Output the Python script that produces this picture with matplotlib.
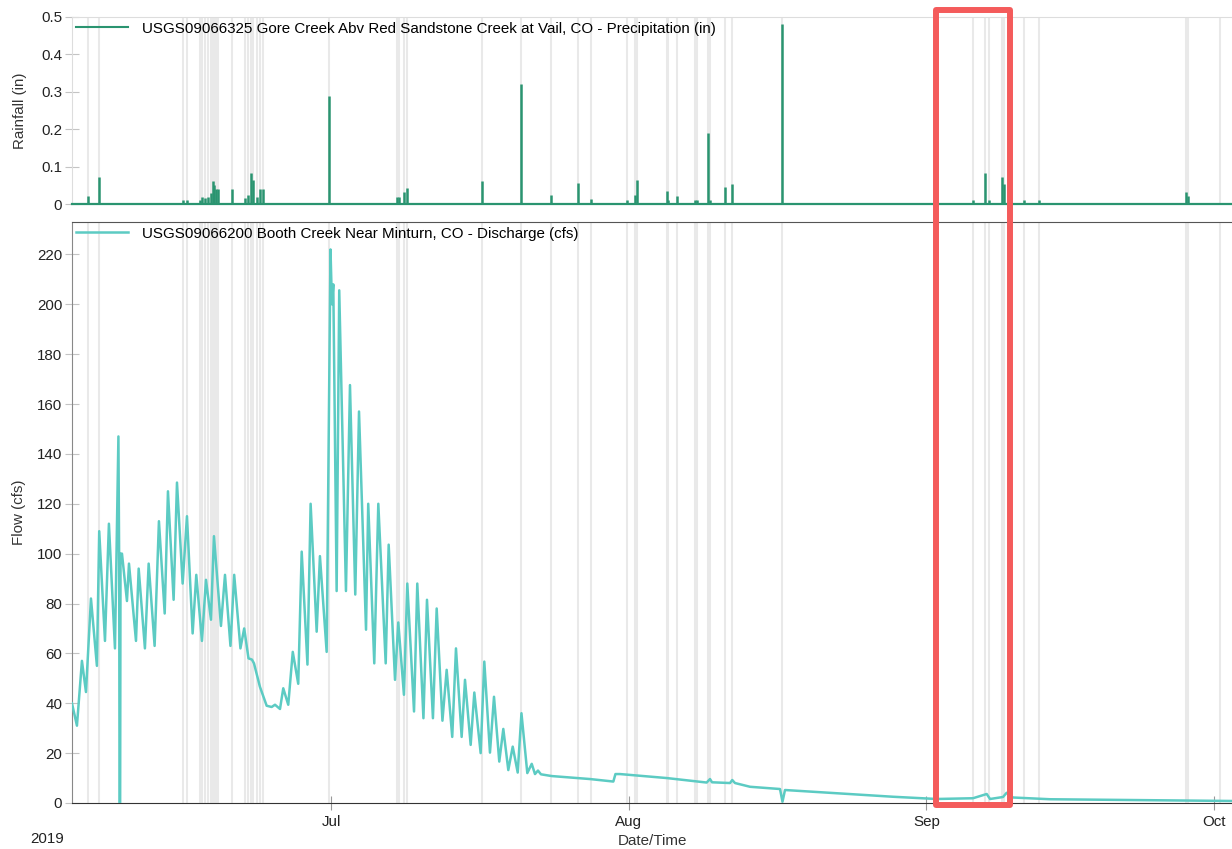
import pandas as pd
import matplotlib
matplotlib.use("Agg")
import matplotlib.pyplot as plt
import matplotlib.dates as mdates
import matplotlib.transforms as mtransforms
from matplotlib.patches import Rectangle

plt.rcParams["font.family"] = ["Liberation Sans", "DejaVu Sans"]
plt.rcParams["font.size"] = 10.9

START = pd.Timestamp("2019-06-04")
END_DAYS = 120.83

# rain gauge (days after Jun 4, inches)
rain_days = [1.64, 2.81, 11.59, 11.95, 13.33, 13.51, 13.85, 14.20, 14.45, 14.66,
             14.79, 15.00, 15.24, 16.64, 18.02, 18.33, 18.61, 18.82, 19.27, 19.58,
             19.90, 26.80, 33.82, 34.06, 34.58, 34.86, 42.71, 46.77, 49.86, 52.68,
             54.03, 57.78, 58.65, 58.82, 61.95, 62.11, 63.05, 64.90, 65.07, 66.28,
             66.46, 68.02, 68.72, 73.96, 93.82, 95.10, 95.55, 96.88, 97.08, 99.20,
             100.73, 116.04, 116.28, 119.58]
rain_in = [0.021, 0.072, 0.010, 0.010, 0.010, 0.020, 0.015, 0.020, 0.030, 0.061,
           0.050, 0.040, 0.040, 0.040, 0.015, 0.025, 0.083, 0.065, 0.020, 0.040,
           0.040, 0.290, 0.018, 0.020, 0.033, 0.043, 0.062, 0.320, 0.024, 0.055,
           0.013, 0.012, 0.024, 0.064, 0.035, 0.012, 0.022, 0.012, 0.012, 0.190,
           0.010, 0.045, 0.053, 0.480, 0.012, 0.082, 0.010, 0.073, 0.053, 0.012,
           0.012, 0.033, 0.021, 0.0]

# discharge (days after Jun 4, cfs)
flow_days = [0.00, 0.52, 1.04, 1.46, 1.98, 2.60, 2.84, 3.44, 3.85, 4.48,
             4.84, 4.92, 4.96, 5.02, 5.06, 5.21, 5.73, 5.94, 6.67, 6.95,
             7.60, 7.99, 8.61, 9.06, 9.66, 10.00, 10.59, 10.94, 11.53, 11.98,
             12.57, 12.95, 13.54, 13.96, 14.48, 14.79, 15.52, 15.94, 16.51, 16.90,
             17.55, 17.94, 18.39, 18.75, 18.96, 19.58, 20.28, 20.80, 21.15, 21.67,
             22.01, 22.53, 23.00, 23.57, 23.93, 24.53, 24.86, 25.49, 25.83, 26.53,
             26.93, 27.08, 27.22, 27.57, 27.84, 28.54, 28.96, 29.51, 29.90, 30.63,
             30.86, 31.49, 31.91, 32.68, 32.99, 33.65, 33.99, 34.58, 34.93, 35.63,
             35.97, 36.61, 36.98, 37.60, 37.99, 38.59, 39.03, 39.61, 40.00, 40.59,
             40.94, 41.53, 41.91, 42.57, 42.95, 43.54, 43.96, 44.51, 44.93, 45.45,
             45.91, 46.43, 46.82, 47.43, 47.89, 48.23, 48.54, 48.85, 49.97, 53.96,
             56.39, 56.61, 57.08, 61.95, 66.11, 66.46, 66.67, 68.54, 68.78, 69.06,
             70.63, 73.75, 74.01, 74.27, 81.04, 85.52, 90.07, 93.85, 95.28, 95.63,
             96.98, 97.36, 98.02, 101.88, 120.83]
flow_cfs = [40, 31, 57, 44.5, 82, 55, 109, 65, 112, 62,
            147, 95, 0, 0, 100, 100, 81, 96, 65, 94,
            62, 96, 63, 113, 76, 125, 81.5, 128.5, 88, 115,
            68, 91.5, 65, 89.5, 73.5, 107, 71, 91.5, 63, 91.5,
            62, 70, 58, 57.5, 56, 46.6, 39, 38.5, 39.4, 37.7,
            46, 39.4, 60.6, 47.8, 100.8, 55.5, 120, 68.7, 99, 60.6,
            222, 200, 208, 85, 205.6, 85, 167.6, 83.6, 157, 69.5,
            120, 56, 120, 56, 103.6, 49.4, 72.4, 43.4, 88, 36.7,
            88, 34, 81.5, 34, 78, 33, 53.4, 26.5, 62, 26.5,
            49.4, 23.3, 44.3, 20, 56.7, 20.2, 42.6, 16.6, 29.7, 13.2,
            22.6, 12.2, 36, 12, 15.7, 11.6, 13, 11.5, 10.8, 9.6,
            8.6, 11.6, 11.6, 10, 8.2, 9.6, 8.3, 8, 9.2, 8,
            6.5, 5.6, 0.5, 5.2, 3.6, 2.5, 1.6, 1.9, 3.6, 1.6,
            2.4, 4.1, 2.2, 1.5, 0.8]

highlight_days = (89.95, 97.66)

rain_label = "USGS09066325 Gore Creek Abv Red Sandstone Creek at Vail, CO - Precipitation (in)"
flow_label = "USGS09066200 Booth Creek Near Minturn, CO - Discharge (cfs)"

rain_color = "#2a9470"
flow_color = "#5ccbc3"
event_color = "#e9e9e9"


def to_dates(days):
    return START + pd.to_timedelta(days, unit="D")


rain_t = to_dates(rain_days)
flow_t = to_dates(flow_days)
x0, x1 = START, to_dates([END_DAYS])[0]

fig = plt.figure(figsize=(12.32, 8.49), dpi=100)
ax_r = fig.add_axes([0.0584, 0.7597, 0.9416, 0.2203])
ax_f = fig.add_axes([0.0584, 0.0542, 0.9416, 0.6843])

for ax in (ax_r, ax_f):
    for t in rain_t:
        ax.axvline(t, color=event_color, linewidth=1.5, zorder=0)
    ax.set_xlim(x0, x1)
    ax.tick_params(axis="y", direction="inout", length=10, color="#c4c4c4",
                   labelcolor="#222222", pad=2)
    ax.spines["right"].set_visible(False)

# rainfall panel
ax_r.vlines(rain_t, 0, rain_in, color=rain_color, linewidth=1.8, zorder=3)
ax_r.axhline(0, color=rain_color, linewidth=1.6, zorder=4, clip_on=False)
ax_r.plot([], [], color=rain_color, linewidth=1.5, label=rain_label)
ax_r.set_ylim(0, 0.5)
ax_r.set_yticks([0, 0.1, 0.2, 0.3, 0.4, 0.5])
ax_r.set_yticklabels(["0", "0.1", "0.2", "0.3", "0.4", "0.5"])
ax_r.set_xticks([])
ax_r.spines["bottom"].set_visible(False)
ax_r.spines["top"].set_color("#dddddd")
ax_r.spines["left"].set_color("#dddddd")
ax_r.set_ylabel("Rainfall (in)", color="#333333", labelpad=10)
ax_r.legend(loc="upper left", frameon=False, handlelength=3.4, handletextpad=0.9,
            borderaxespad=0.1, borderpad=0.2)

# discharge panel
ax_f.plot(flow_t, flow_cfs, color=flow_color, linewidth=1.8, zorder=3, label=flow_label)
ax_f.set_ylim(0, 233)
ax_f.set_yticks(range(0, 221, 20))
ax_f.spines["top"].set_color("#555555")
ax_f.spines["left"].set_color("#888888")
ax_f.spines["bottom"].set_color("#333333")
ax_f.xaxis.set_major_locator(mdates.MonthLocator())
ax_f.xaxis.set_major_formatter(mdates.DateFormatter("%b"))
ax_f.tick_params(axis="x", direction="inout", length=10, color="#999999",
                 labelcolor="#222222", pad=4)
ax_f.set_ylabel("Flow (cfs)", color="#333333", labelpad=8)
ax_f.set_xlabel("Date/Time", color="#333333", labelpad=3)
ax_f.legend(loc="upper left", frameon=False, handlelength=3.4, handletextpad=0.9,
            borderaxespad=0.1, borderpad=0.2)

fig.text(0.038, 0.004, "2019", ha="center", va="bottom", color="#222222")

# highlight box spanning both panels
h0, h1 = to_dates(list(highlight_days))
trans = mtransforms.blended_transform_factory(ax_f.transData, fig.transFigure)
hx0, hx1 = mdates.date2num(h0), mdates.date2num(h1)
box = Rectangle((hx0, 0.052), hx1 - hx0, 0.9365, transform=trans, fill=False,
                edgecolor="#f45b5b", linewidth=4.3, joinstyle="round",
                clip_on=False, zorder=10)
fig.add_artist(box)

fig.savefig("out.png", dpi=100)
